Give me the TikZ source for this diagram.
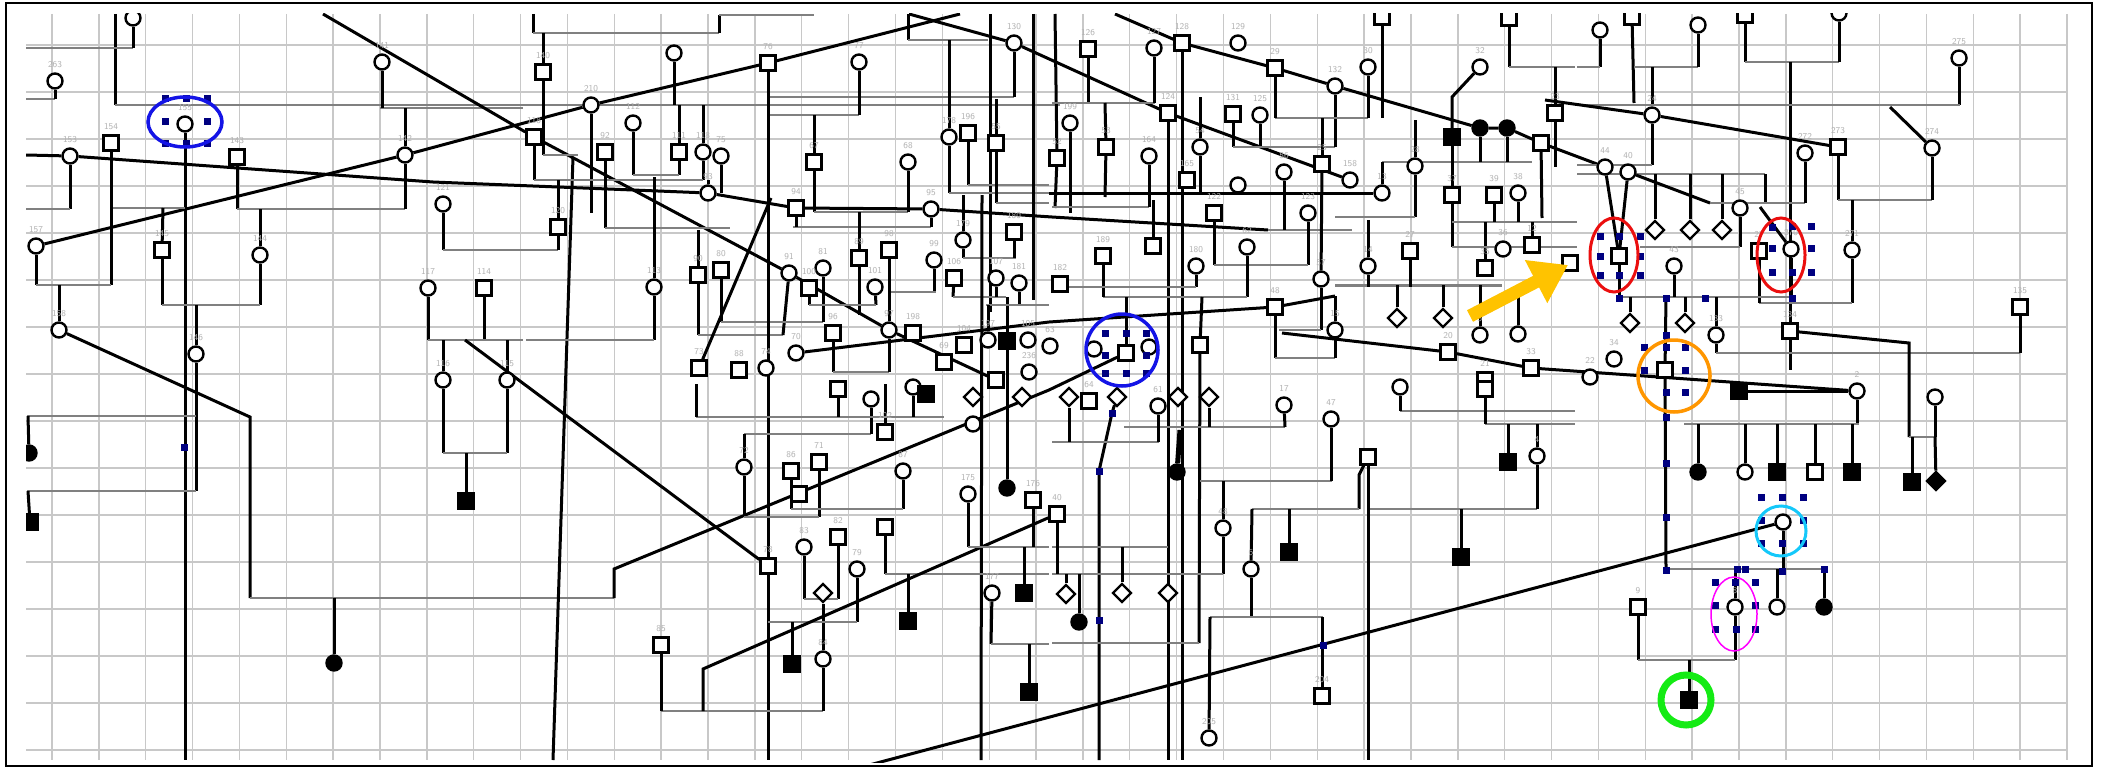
\documentclass[tikz,border=0pt]{standalone}
\usepackage{tikz}
\usetikzlibrary{shapes.geometric,arrows.meta}

\definecolor{gridgray}{RGB}{200,200,200}
\definecolor{siblgray}{RGB}{128,128,128}
\definecolor{selnavy}{RGB}{0,0,128}
\definecolor{ringblue}{RGB}{20,20,230}
\definecolor{ringred}{RGB}{235,15,15}
\definecolor{ringorange}{RGB}{255,150,0}
\definecolor{ringcyan}{RGB}{20,200,250}
\definecolor{ringmag}{RGB}{255,0,255}
\definecolor{ringgreen}{RGB}{20,235,20}
\definecolor{arrowyel}{RGB}{255,195,0}

\pgfdeclarelayer{gridlayer}
\pgfdeclarelayer{linklayer}
\pgfsetlayers{gridlayer,linklayer,main}

\tikzset{
  person/.style={draw, line width=2.4pt, fill=white, inner sep=0pt, minimum size=15pt},
  male/.style={person},
  fem/.style={person, circle},
  unk/.style={person, diamond, minimum size=19pt},
  lbl/.style={font=\fontsize{9}{9}\selectfont\sffamily, text=black!30, label distance=1pt},
  lnk/.style={draw=black, line width=3pt},
  sib/.style={draw=siblgray, line width=2.3pt},
  gridln/.style={draw=gridgray, line width=1.4pt},
  selmk/.style={fill=selnavy}
}

\begin{document}
\begin{tikzpicture}[x=1pt, y=-1pt]
  \useasboundingbox (0,0) rectangle (2103,768);

  \begin{scope}
  \clip (26,14) rectangle (2067,762);

  % Grid
  \begin{pgfonlayer}{gridlayer}
    \fill[white] (0,0) rectangle (2103,768);
    \foreach \i in {0,...,43} \draw[gridln] ({52+46.86*\i},14) -- ({52+46.86*\i},760);
    \foreach \j in {0,...,15} \draw[gridln] (26,{45+47*\j}) -- (2067,{45+47*\j});
  \end{pgfonlayer}

  % Females
  \foreach \nm/\x/\y/\t in {fa/133/18/, f263/55/81/263, f155/185/124/155, f153/70/156/153,
      f142/405/155/142, f141/382/62/141, f121/443/204/121, f157/36/246/157, f144/260/255/144,
      f158/59/330/158, f146/196/354/146, f117/428/288/117, f116/443/380/116, f115/507/380/115,
      f210/591/105/210, f112/633/123/112, fb/674/53/, f77/859/62/77, f130/1014/43/130,
      f118/703/152/118, f75/721/156/75, f93/708/193/93, f68/908/162/68, f178/949/137/178,
      f95/931/209/95, f179/963/240/179, f113/654/287/113, f91/789/273/91, f81/823/268/81,
      f101/875/287/101, f99/934/260/99, f107/996/278/107, f181/1019/283/181, f97/889/330/97,
      f70/796/353/70, f74/766/368/74, f197/988/340/197, f105/1028/340/105, f236/1029/372/236,
      f72/744/467/72, f87/903/471/87, f83/804/547/83, f79/857/569/79, f84/823/659/84,
      f175/968/494/175, f177/992/593/177, fc/871/399/, fd/913/387/, fe/973/424/,
      f127/1154/48/127, f129/1238/43/129, f30/1368/67/30, f132/1335/86/132, f32/1480/67/32,
      f199/1070/123/199, f164/1149/156/164, f125/1260/115/125, f54/1200/147/54, ff/1238/185/,
      f56/1284/172/56, f158b/1350/180/158, f123/1308/213/123, f13/1382/193/13, f28/1415/166/28,
      f38/1518/193/38, f36/1503/249/36, f14/1368/266/14, f57/1321/279/57, f15/1335/330/15,
      f5/1480/335/5, fg/1518/334/, f180b/1196/266/180, f62/1247/247/62, fh/1094/349/,
      fi/1149/347/, f63/1050/346/63, f17/1284/405/17, f47/1331/419/47, fj/1158/406/61,
      f48/1223/528/48, f6/1251/569/6, f205/1209/738/205, f4/1537/456/4, fk/1400/387/,
      fl/1600/30/, fm/1698/25/, f275/1959/58/275, f24/1652/115/24, f272/1805/153/272,
      f274/1932/148/274, f44/1605/167/44, f40/1628/172/40, f45/1740/208/45, f270/1791/249/270,
      f271/1852/250/271, f43/1674/266/43, f133/1716/335/133, f34/1614/359/34, f22/1590/377/22,
      f2/1857/391/2, fn/1935/397/, fo/1745/472/, fcy/1783/522/, fp/1777/607/, fmg/1735/607/8,
      fq/1839/13/}
    \node[fem, label={[lbl]above:\t}] (\nm) at (\x,\y) {};

  % Males
  \foreach \nm/\x/\y/\t in {m154/111/143/154, m143/237/157/143, m145/162/250/145, m114/484/288/114,
      m140/543/72/140, m118/534/137/118, m92/605/152/92, m111/679/152/111, m76/768/63/76,
      m67/814/162/67, m196/968/133/196, m55/996/143/55, m94/796/208/94, m120/558/227/120,
      m180/1014/232/180, m90/698/275/90, m80/721/270/80, m100/809/288/100, m89/859/258/89,
      m98/889/250/98, m106/954/278/106, m198/913/333/198, m96/833/333/96, m73/699/368/73,
      m88/739/370/88, m69/944/362/69, m104/964/345/104, ma/996/380/, m71/819/462/71,
      m86/791/471/86, mb/799/494/, m102/885/432/102, mc/885/527/, m82/838/537/82, m78/768/566/78,
      m85/661/645/85, m176/1033/500/176, md/838/389/, m126/1088/49/126, m128/1182/43/128,
      m29/1275/68/29, me/1382/17/, mf/1509/18/, m23/1555/113/23, mg/1541/143/, m53/1106/147/53,
      m52/1057/158/52, m124/1168/113/124, m131/1233/114/131, m165/1187/180/165, m122/1214/213/122,
      m25/1322/164/25, m37/1452/195/37, m39/1494/195/39, m12/1532/245/12, m35/1485/268/35,
      m27/1410/251/27, m48/1275/307/48, m20/1448/352/20, m33/1531/368/33, m21/1485/380/21,
      m189/1103/256/189, mh/1153/246/, m182/1060/284/182, mbl/1126/353/, mi/1200/345/,
      mj/1570/263/, mk/1089/401/64, m40/1057/514/40, ml/1368/457/, mm/1485/389/,
      m204/1322/696/204, mn/1632/17/, mo/1745/15/, m273/1838/147/273, mrd/1619/256/,
      m27b/1759/251/27, m134/1790/331/134, m135/2020/307/135, mor/1665/370/, mp/1815/472/,
      m9/1638/607/9}
    \node[male, label={[lbl]above:\t}] (\nm) at (\x,\y) {};

  % Unknown sex
  \foreach \nm/\x/\y in {u1/1022/397, u2/973/397, u3/1069/397, u4/1117/397, u5/1178/397,
      u6/1209/397, u7/823/593, u8/1066/594, u9/1122/593, u10/1168/593, u11/1397/318,
      u12/1443/318, u13/1655/230, u14/1690/230, u15/1722/230, u16/1630/323, u17/1685/323}
    \node[unk] (\nm) at (\x,\y) {};

  % Affected
  \foreach \nm/\x/\y in {A1/466/501, A2/30/522, A3/1007/341, A4/926/394, A5/792/664, A6/908/621,
      A7/1024/593, A8/1029/692, A9/1452/137, A10/1289/552, A11/1461/557, A12/1508/462,
      A13/1739/391, A14/1777/472, A15/1852/472, A16/1912/482, A17/1689/700}
    \node[male, fill=black] (\nm) at (\x,\y) {};
  \foreach \nm/\x/\y in {B1/334/663, B2/29/453, B3/1007/488, B4/1177/472, B5/1079/622,
      B6/1480/128, B7/1507/128, B8/1698/472, B9/1824/607}
    \node[fem, fill=black] (\nm) at (\x,\y) {};
  \node[unk, fill=black] (C1) at (1936,481) {};

  \begin{pgfonlayer}{linklayer}
  \clip (26,14) rectangle (2067,762);
  % left part
  \draw[lnk] (115,14) -- (115,105);
  \draw[sib] (115,105) -- (1060,105);
  \draw[sib] (26,48) -- (133,48);
  \draw[lnk] (fa) -- (133,48);
  \draw[sib] (26,99) -- (55,99);
  \draw[lnk] (f263) -- (55,99);
  \draw[sib] (380,108) -- (523,108);
  \draw[lnk] (f141) -- (382,108);
  \draw[lnk] (405,108) -- (f142);
  \draw[lnk] (f155) -- (185,760);
  \draw[lnk] (f157) -- (f142) -- (f210) -- (m76) -- (960,14);
  \draw[lnk] (26,155) -- (f153) -- (433,182) -- (f93) -- (m94) -- (f95) -- (1052,217) -- (1268,230);
  \draw[sib] (1268,230) -- (1352,230);
  \draw[lnk] (323,14) -- (m118) -- (f91) -- (f97) -- (ma);
  \draw[lnk] (f153) -- (70,209);
  \draw[sib] (26,209) -- (70,209);
  \draw[sib] (111,208) -- (185,208);
  \draw[lnk] (m154) -- (111,285);
  \draw[lnk] (f157) -- (36,285);
  \draw[sib] (36,285) -- (111,285);
  \draw[lnk] (59,285) -- (f158);
  \draw[lnk] (163,208) -- (m145);
  \draw[lnk] (m143) -- (237,209);
  \draw[sib] (237,209) -- (405,209);
  \draw[lnk] (f142) -- (405,209);
  \draw[lnk] (260,209) -- (f144);
  \draw[lnk] (m145) -- (162,305);
  \draw[lnk] (f144) -- (260,305);
  \draw[sib] (162,305) -- (260,305);
  \draw[lnk] (196,305) -- (f146) -- (196,491);
  \draw[sib] (27,416) -- (196,416);
  \draw[sib] (27,491) -- (196,491);
  \draw[lnk] (28,416) -- (B2);
  \draw[lnk] (28,491) -- (A2);
  \draw[lnk] (f121) -- (443,250);
  \draw[sib] (443,250) -- (558,250);
  \draw[lnk] (558,250) -- (m120);
  \draw[lnk] (f117) -- (428,340);
  \draw[lnk] (m114) -- (484,340);
  \draw[sib] (428,340) -- (523,340);
  \draw[lnk] (443,340) -- (f116);
  \draw[lnk] (507,340) -- (f115);
  \draw[lnk] (465,340) -- (m78);
  \draw[lnk] (f116) -- (443,453);
  \draw[lnk] (f115) -- (507,453);
  \draw[sib] (443,453) -- (507,453);
  \draw[lnk] (466,453) -- (A1);
  \draw[lnk] (f158) -- (250,417) -- (250,598);
  \draw[sib] (250,598) -- (614,598);
  \draw[lnk] (614,598) -- (614,569) -- (1049,390) -- (mbl);
  \draw[lnk] (334,598) -- (B1);
  \draw[lnk] (573,157) -- (553,760);
  \draw[lnk] (f210) -- (591,213);

  % middle top
  \draw[lnk] (533,14) -- (533,33);
  \draw[sib] (533,33) -- (719,33);
  \draw[lnk] (719,15) -- (719,33);
  \draw[sib] (719,15) -- (814,15);
  \draw[lnk] (543,33) -- (m140) -- (543,155);
  \draw[sib] (543,155) -- (578,155);
  \draw[lnk] (fb) -- (674,105);
  \draw[lnk] (679,105) -- (m111) -- (679,175);
  \draw[lnk] (f112) -- (633,175);
  \draw[sib] (633,175) -- (679,175);
  \draw[lnk] (703,105) -- (f118) -- (703,180);
  \draw[lnk] (m118) -- (534,180);
  \draw[sib] (534,180) -- (703,180);
  \draw[lnk] (558,180) -- (m120);
  \draw[lnk] (708,180) -- (f93);
  \draw[lnk] (f75) -- (721,193);
  \draw[sib] (768,97) -- (1014,97);
  \draw[lnk] (f130) -- (1014,97);
  \draw[sib] (768,115) -- (859,115);
  \draw[lnk] (f77) -- (859,115);
  \draw[lnk] (814,115) -- (m67) -- (814,212);
  \draw[sib] (814,212) -- (908,212);
  \draw[lnk] (f68) -- (908,212);
  \draw[lnk] (m92) -- (605,228);
  \draw[sib] (605,228) -- (730,228);
  \draw[sib] (793,227) -- (931,227);
  \draw[lnk] (f95) -- (931,227);
  \draw[lnk] (m94) -- (796,227);
  \draw[lnk] (654,177) -- (f113) -- (654,340);
  \draw[sib] (526,340) -- (654,340);
  \draw[lnk] (698,230) -- (m90) -- (698,335);
  \draw[sib] (698,335) -- (783,335);
  \draw[lnk] (f91) -- (783,335);
  \draw[lnk] (m80) -- (721,322);
  \draw[sib] (721,322) -- (823,322);
  \draw[lnk] (f81) -- (823,322);
  \draw[lnk] (m73) -- (771,198);
  \draw[lnk] (859,212) -- (m89) -- (859,315);
  \draw[lnk] (m100) -- (809,305);
  \draw[lnk] (f101) -- (876,305);
  \draw[sib] (809,305) -- (876,305);
  \draw[lnk] (m98) -- (f97);
  \draw[lnk] (f99) -- (934,292);
  \draw[sib] (891,292) -- (936,292);
  \draw[lnk] (m96) -- (833,372);
  \draw[sib] (833,372) -- (889,372);
  \draw[lnk] (f97) -- (889,372);
  \draw[lnk] (f70) -- (1049,322) -- (m48) -- (1335,296);
  \draw[sib, line width=3pt] (1335,285) -- (1502,285);
  \draw[lnk] (908,14) -- (908,40);
  \draw[sib] (908,40) -- (988,40);
  \draw[lnk] (990,14) -- (990,312);
  \draw[lnk] (949,40) -- (f178) -- (949,193);
  \draw[sib] (949,193) -- (1049,193);
  \draw[lnk] (m196) -- (968,185);
  \draw[sib] (968,185) -- (1049,185);
  \draw[lnk] (996,99) -- (m55) -- (996,203);
  \draw[sib] (996,203) -- (1049,203);
  \draw[lnk] (963,195) -- (f179) -- (963,258);
  \draw[sib] (963,258) -- (1016,258);
  \draw[lnk] (m180) -- (1014,258);
  \draw[lnk] (m106) -- (953,297);
  \draw[sib] (953,297) -- (1006,297);
  \draw[lnk] (1007,297) -- (A3) -- (B3);
  \draw[lnk] (f107) -- (996,297);
  \draw[lnk] (f181) -- (1019,305);
  \draw[sib] (986,305) -- (1049,305);
  \draw[lnk] (f197) -- (988,305);
  \draw[lnk] (m76) -- (768,760);
  \draw[lnk] (1033,14) -- (1033,300);
  \draw[lnk] (1055,14) -- (m52) -- (1055,208);
  \draw[lnk] (f199) -- (1070,213);
  \draw[lnk] (982,195) -- (981,760);

  % lower middle
  \draw[lnk] (f72) -- (744,517);
  \draw[lnk] (m71) -- (819,517);
  \draw[sib] (744,517) -- (819,517);
  \draw[lnk] (m86) -- (791,509);
  \draw[lnk] (f87) -- (903,509);
  \draw[sib] (791,509) -- (903,509);
  \draw[lnk] (m102) -- (885,384);
  \draw[sib] (744,434) -- (871,434);
  \draw[lnk] (fc) -- (871,434);
  \draw[lnk] (744,434) -- (f72);
  \draw[lnk] (mc) -- (885,574);
  \draw[sib] (885,574) -- (1049,574);
  \draw[lnk] (908,574) -- (A6);
  \draw[lnk] (f83) -- (804,599);
  \draw[lnk] (m82) -- (838,599);
  \draw[sib] (804,599) -- (838,599);
  \draw[lnk] (u7) -- (f84);
  \draw[lnk] (f79) -- (857,622);
  \draw[sib] (768,622) -- (857,622);
  \draw[lnk] (792,622) -- (A5);
  \draw[sib] (661,711) -- (823,711);
  \draw[lnk] (m85) -- (661,711);
  \draw[lnk] (f84) -- (823,711);
  \draw[lnk] (703,711) -- (703,669) -- (m40);
  \draw[lnk] (f175) -- (968,547);
  \draw[sib] (968,547) -- (1049,547);
  \draw[lnk] (f177) -- (991,644);
  \draw[sib] (991,644) -- (1049,644);
  \draw[lnk] (1029,644) -- (A8);
  \draw[lnk] (m176) -- (1033,547);
  \draw[lnk] (1024,547) -- (A7);
  \draw[sib] (696,417) -- (944,417);
  \draw[lnk] (696,384) -- (696,417);
  \draw[lnk] (md) -- (838,417);
  \draw[lnk] (fd) -- (913,417);

  % lower right-middle
  \draw[lnk] (u4) -- (1112,413) -- (1099,471) -- (1099,760);
  \draw[lnk] (m124) -- (1168,760);
  \draw[lnk] (m128) -- (1182,760);
  \draw[lnk, line width=5pt] (1180,430) -- (B4);
  \draw[lnk] (mi) -- (1199,643);
  \draw[sib] (1124,427) -- (1285,427);
  \draw[lnk] (f17) -- (1285,427);
  \draw[lnk] (u6) -- (1209,427);
  \draw[sib] (1052,442) -- (1159,442);
  \draw[lnk] (fj) -- (1158,442);
  \draw[lnk] (u3) -- (1069,442);
  \draw[sib] (1200,481) -- (1332,481);
  \draw[lnk] (f47) -- (1331,481);
  \draw[lnk] (1223,481) -- (f48) -- (1223,574);
  \draw[sib] (1052,574) -- (1223,574);
  \draw[sib] (1052,547) -- (1168,547);
  \draw[lnk] (m40) -- (1057,574);
  \draw[lnk] (1066,574) -- (u8);
  \draw[lnk] (1122,547) -- (u9);
  \draw[lnk] (1079,574) -- (B5);
  \draw[sib] (1052,643) -- (1199,643);
  \draw[lnk] (ml) -- (1368,760);
  \draw[lnk] (ml) -- (1359,475) -- (1359,509);
  \draw[sib] (1252,509) -- (1359,509);
  \draw[sib] (1370,509) -- (1537,509);
  \draw[lnk] (1252,509) -- (f6);
  \draw[lnk] (1289,509) -- (A10);
  \draw[lnk] (1461,509) -- (A11);
  \draw[lnk] (f4) -- (1537,509);
  \draw[lnk] (f6) -- (1251,617);
  \draw[sib] (1210,617) -- (1323,617);
  \draw[lnk] (1210,617) -- (f205);
  \draw[lnk] (1322,617) -- (m204);
  \draw[sib] (1400,411) -- (1575,411);
  \draw[sib] (1485,424) -- (1575,424);
  \draw[lnk] (fk) -- (1400,411);
  \draw[lnk] (mm) -- (1485,424);
  \draw[lnk] (1508,424) -- (A12);
  \draw[lnk] (1537,424) -- (f4);
  \draw[lnk] (858,768) -- (fcy);

  % upper right-middle
  \draw[lnk] (909,14) -- (f130) -- (m124) -- (f158b);
  \draw[lnk] (1115,14) -- (m128) -- (m29) -- (f132) -- (B6) -- (B7) -- (mg) -- (f44);
  \draw[lnk] (m126) -- (1088,103);
  \draw[sib] (1052,103) -- (1155,103);
  \draw[lnk] (f127) -- (1154,103);
  \draw[lnk] (1105,103) -- (m53) -- (1105,197);
  \draw[lnk] (1049,193) -- (f13);
  \draw[sib] (1052,207) -- (1149,207);
  \draw[lnk] (f164) -- (1149,207);
  \draw[lnk] (1200,97) -- (f54) -- (1200,193);
  \draw[lnk] (m131) -- (1233,147);
  \draw[lnk] (f125) -- (1260,147);
  \draw[sib] (1233,147) -- (1335,147);
  \draw[lnk] (f132) -- (1335,147);
  \draw[sib] (1275,118) -- (1368,118);
  \draw[lnk] (m29) -- (1275,118);
  \draw[lnk] (f30) -- (1368,118);
  \draw[lnk] (me) -- (1382,118);
  \draw[lnk] (1322,118) -- (m25);
  \draw[lnk] (m25) -- (f57);
  \draw[lnk] (1415,120) -- (f28) -- (1415,217);
  \draw[sib] (1382,162) -- (1532,162);
  \draw[lnk] (1382,162) -- (f13);
  \draw[sib] (1335,217) -- (1415,217);
  \draw[lnk] (A9) -- (m37);
  \draw[lnk] (B6) -- (1480,162);
  \draw[lnk] (B7) -- (1507,162);
  \draw[lnk] (f32) -- (1452,97) -- (A9);
  \draw[lnk] (mf) -- (1509,67);
  \draw[sib] (1509,67) -- (1575,67);
  \draw[lnk] (1555,67) -- (m23) -- (1555,167);
  \draw[lnk] (mg) -- (1542,218);
  \draw[lnk] (m37) -- (1452,247);
  \draw[sib] (1452,222) -- (1577,222);
  \draw[lnk] (m39) -- (1494,222);
  \draw[lnk] (f38) -- (1518,222);
  \draw[lnk] (1485,222) -- (m35);
  \draw[lnk] (1532,222) -- (m12);
  \draw[sib] (1452,247) -- (1577,247);
  \draw[lnk] (f14) -- (1368,220);
  \draw[lnk] (f14) -- (1368,287);
  \draw[lnk] (m27) -- (1410,287);
  \draw[lnk] (u11) -- (1397,285);
  \draw[lnk] (u12) -- (1443,285);
  \draw[lnk] (m48) -- (1275,358);
  \draw[sib] (1275,358) -- (1335,358);
  \draw[lnk] (f15) -- (1335,358);
  \draw[lnk] (f15) -- (1335,296);
  \draw[lnk] (f57) -- (1321,330);
  \draw[sib] (1279,330) -- (1321,330);
  \draw[lnk] (1282,333) -- (m20) -- (m33) -- (f2);
  \draw[lnk] (m122) -- (1214,265);
  \draw[lnk] (f123) -- (1308,265);
  \draw[sib] (1214,265) -- (1308,265);
  \draw[lnk] (f62) -- (1247,297);
  \draw[sib] (1103,297) -- (1247,297);
  \draw[lnk] (m189) -- (1103,297);
  \draw[lnk] (f180b) -- (1196,287);
  \draw[sib] (1052,287) -- (1196,287);
  \draw[lnk] (1126,297) -- (mbl);
  \draw[lnk] (mh) -- (1153,200);
  \draw[lnk] (1202,297) -- (mi);
  \draw[lnk] (f56) -- (1284,230);
  \draw[lnk] (f5) -- (1480,285);
  \draw[lnk] (fg) -- (1518,296);

  % right part
  \draw[lnk] (fl) -- (1600,67);
  \draw[sib] (1577,67) -- (1600,67);
  \draw[lnk] (mn) -- (1634,103);
  \draw[sib] (1634,67) -- (1698,67);
  \draw[lnk] (fm) -- (1698,67);
  \draw[lnk] (1652,67) -- (f24);
  \draw[lnk] (mo) -- (1745,62);
  \draw[sib] (1745,62) -- (1839,62);
  \draw[lnk] (fq) -- (1839,62);
  \draw[lnk] (1790,62) -- (1790,370);
  \draw[lnk] (f275) -- (1959,105);
  \draw[sib] (1577,105) -- (1960,105);
  \draw[lnk] (1890,107) -- (f274);
  \draw[lnk] (1545,100) -- (f24) -- (m273);
  \draw[lnk] (f24) -- (1652,165);
  \draw[sib] (1577,165) -- (1652,165);
  \draw[sib] (1577,174) -- (1765,174);
  \draw[lnk] (1655,174) -- (u13);
  \draw[lnk] (1690,174) -- (u14);
  \draw[lnk] (1722,174) -- (u15);
  \draw[lnk] (1765,174) -- (1765,203);
  \draw[lnk] (f40) -- (1710,203);
  \draw[sib] (1710,203) -- (1805,203);
  \draw[lnk] (f272) -- (1805,203);
  \draw[lnk] (f45) -- (1740,247);
  \draw[sib] (1640,247) -- (1740,247);
  \draw[lnk] (m273) -- (1838,200);
  \draw[sib] (1838,200) -- (1932,200);
  \draw[lnk] (f274) -- (1932,200);
  \draw[lnk] (1852,200) -- (f271) -- (1852,303);
  \draw[sib] (1759,303) -- (1852,303);
  \draw[lnk] (m27b) -- (1759,303);
  \draw[lnk] (1760,207) -- (f270);
  \draw[lnk] (f270) -- (1791,298);
  \draw[lnk] (f44) -- (mrd);
  \draw[lnk] (f40) -- (mrd);
  \draw[lnk] (mrd) -- (1619,297);
  \draw[sib] (1619,297) -- (1792,297);
  \draw[lnk] (1630,297) -- (u16);
  \draw[lnk] (f43) -- (1674,297);
  \draw[lnk] (1685,297) -- (u17);
  \draw[lnk] (1666,297) -- (mor);
  \draw[lnk] (1716,297) -- (f133);
  \draw[lnk] (f133) -- (1716,353);
  \draw[sib] (1716,353) -- (2020,353);
  \draw[lnk] (m135) -- (2020,353);
  \draw[lnk] (m134) -- (1909,343) -- (1909,437);
  \draw[sib] (1909,437) -- (1935,437);
  \draw[lnk] (fn) -- (1935,437);
  \draw[lnk] (1912,437) -- (A16);
  \draw[lnk] (1935,437) -- (C1);
  \draw[lnk] (A13) -- (f2);
  \draw[lnk] (f2) -- (1857,424);
  \draw[sib] (1684,424) -- (1859,424);
  \draw[lnk] (1698,424) -- (B8);
  \draw[lnk] (1745,424) -- (fo);
  \draw[lnk] (1777,424) -- (A14);
  \draw[lnk] (1815,424) -- (mp);
  \draw[lnk] (1852,424) -- (A15);
  \draw[lnk] (mor) -- (1666,569);
  \draw[sib] (1666,569) -- (1825,569);
  \draw[lnk] (fcy) -- (1783,569);
  \draw[lnk] (1777,569) -- (fp);
  \draw[lnk] (1824,569) -- (B9);
  \draw[lnk] (1735,569) -- (fmg) -- (1735,660);
  \draw[lnk] (m9) -- (1638,660);
  \draw[sib] (1638,660) -- (1735,660);
  \draw[lnk] (1689,660) -- (A17);
  \end{pgfonlayer}

  % Selection markers
  \foreach \x/\y in {165/98, 186/98, 207/98, 165/121, 207/121, 165/143, 186/143, 207/143, 184/447,
      1105/333, 1126/333, 1146/333, 1105/355, 1146/355, 1105/373, 1126/373, 1146/373,
      1112/413, 1099/471, 1099/620, 1323/645,
      1600/236, 1619/236, 1640/236, 1600/256, 1640/256, 1600/275, 1619/275, 1640/275,
      1772/227, 1792/226, 1811/226, 1772/248, 1811/248, 1772/272, 1792/272, 1811/272,
      1619/298, 1666/298, 1705/298, 1792/298, 1666/335, 1644/347, 1666/347, 1685/347,
      1644/370, 1685/370, 1666/392, 1685/392, 1666/417, 1666/463, 1666/517, 1666/570,
      1761/497, 1782/497, 1803/497, 1761/520, 1803/520, 1761/543, 1782/543, 1803/543,
      1737/569, 1745/569, 1782/571, 1824/569,
      1715/582, 1735/582, 1755/582, 1715/605, 1755/605, 1715/629, 1736/629, 1755/629}
    \fill[selmk] ({\x-3.5},{\y-3.5}) rectangle ++(7,7);

  % Highlight rings
  \draw[ringblue, line width=3.5pt] (185,122) ellipse [x radius=37pt, y radius=25pt];
  \draw[ringblue, line width=3.5pt] (1122,350) circle [radius=36pt];
  \draw[ringred, line width=3pt] (1614,255) ellipse [x radius=24pt, y radius=37pt];
  \draw[ringred, line width=3pt] (1781,255) ellipse [x radius=24pt, y radius=37pt];
  \draw[ringorange, line width=3.5pt] (1674,376) circle [radius=36pt];
  \draw[ringcyan, line width=3pt] (1781,531) circle [radius=25pt];
  \draw[ringmag, line width=1.5pt] (1734,614) ellipse [x radius=23pt, y radius=37pt];
  \draw[ringgreen, line width=7pt] (1686,700) circle [radius=25pt];

  % Pointer
  \draw[arrowyel, line width=13pt, -{Triangle[length=36pt,width=46pt]}] (1470,316) -- (1568,265);
  \end{scope}

  % Frame
  \draw[line width=2pt] (6,3) rectangle (2092,766);
\end{tikzpicture}
\end{document}
